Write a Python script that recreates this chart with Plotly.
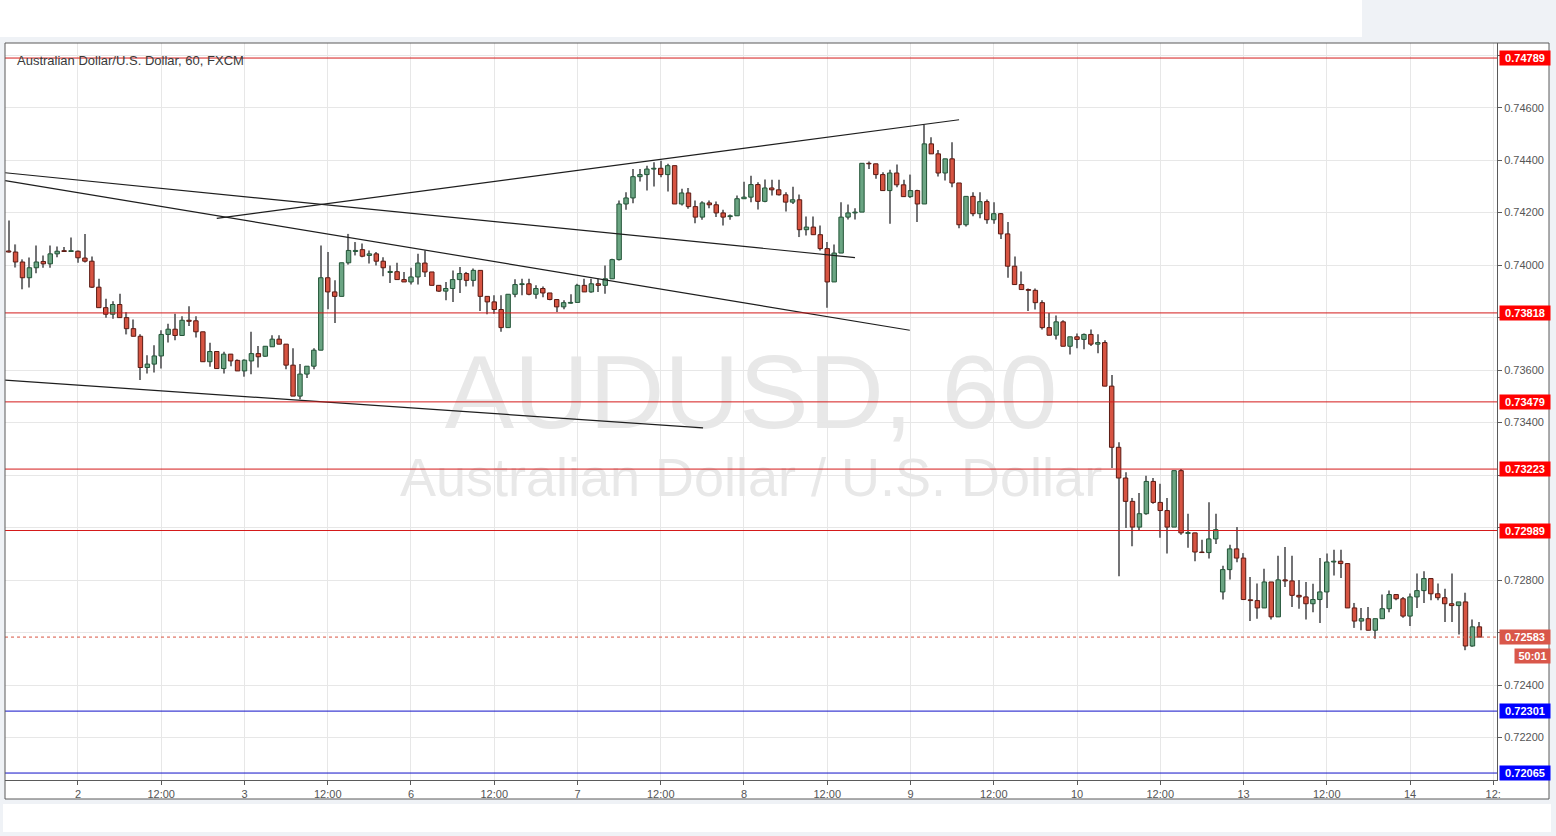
import plotly.graph_objects as go

# ---------------- data ----------------
hours = list(range(-10, 203))  # hourly bar index (0 = start of day "2")

opens = [
0.74054,0.74050,0.74012,0.73952,0.73990,0.74014,0.74005,0.74043,0.74055,0.74052,
0.74053,0.74027,0.74015,0.73916,0.73838,0.73813,0.73850,0.73800,0.73758,0.73729,
0.73610,0.73623,0.73654,0.73736,0.73756,0.73732,0.73790,0.73788,0.73746,0.73632,
0.73671,0.73606,0.73661,0.73637,0.73597,0.73635,0.73663,0.73653,0.73689,0.73718,
0.73699,0.73619,0.73501,0.73585,0.73615,0.73676,0.73952,0.73898,0.73881,0.74009,
0.74052,0.74059,0.74037,0.74043,0.74015,0.73972,0.73975,0.73945,0.73936,0.73955,
0.74008,0.73974,0.73923,0.73901,0.73911,0.73945,0.73968,0.73942,0.73980,0.73881,
0.73860,0.73831,0.73762,0.73889,0.73926,0.73929,0.73889,0.73911,0.73894,0.73869,
0.73841,0.73855,0.73858,0.73923,0.73898,0.73929,0.73923,0.73948,0.74021,0.74233,
0.74256,0.74337,0.74345,0.74366,0.74369,0.74345,0.74379,0.74233,0.74275,0.74223,
0.74183,0.74237,0.74230,0.74199,0.74185,0.74188,0.74253,0.74259,0.74307,0.74243,
0.74294,0.74287,0.74268,0.74240,0.74249,0.74135,0.74145,0.74116,0.74063,0.73936,
0.74046,0.74183,0.74199,0.74202,0.74388,0.74386,0.74345,0.74284,0.74351,0.74306,
0.74261,0.74284,0.74233,0.74462,0.74424,0.74351,0.74405,0.74313,0.74154,0.74262,
0.74196,0.74242,0.74173,0.74196,0.74119,0.73996,0.73926,0.73907,0.73904,0.73857,
0.73762,0.73733,0.73784,0.73691,0.73727,0.73717,0.73736,0.73699,0.73705,0.73539,
0.73306,0.73189,0.73100,0.73002,0.73053,0.73176,0.73096,0.73065,0.73002,0.73217,
0.72978,0.72980,0.72907,0.72905,0.72957,0.72755,0.72840,0.72919,0.72884,0.72725,
0.72722,0.72694,0.72793,0.72660,0.72801,0.72797,0.72742,0.72736,0.72710,0.72726,
0.72755,0.72869,0.72872,0.72863,0.72694,0.72644,0.72653,0.72609,0.72653,0.72691,
0.72745,0.72729,0.72663,0.72736,0.72760,0.72806,0.72748,0.72733,0.72710,0.72703,
0.72717,0.72549,0.72622]

highs = [
0.74170,0.74079,0.74022,0.74029,0.74075,0.74037,0.74075,0.74071,0.74069,0.74105,
0.74056,0.74119,0.74033,0.73948,0.73872,0.73862,0.73891,0.73821,0.73793,0.73737,
0.73657,0.73695,0.73752,0.73777,0.73815,0.73805,0.73843,0.73805,0.73746,0.73704,
0.73671,0.73670,0.73661,0.73641,0.73641,0.73746,0.73692,0.73692,0.73733,0.73733,
0.73699,0.73683,0.73623,0.73615,0.73683,0.74075,0.74050,0.73942,0.74009,0.74119,
0.74088,0.74082,0.74056,0.74050,0.74030,0.73999,0.74009,0.73974,0.73990,0.74043,
0.74056,0.73974,0.73923,0.73936,0.73980,0.73993,0.73974,0.73987,0.73980,0.73881,
0.73885,0.73885,0.73889,0.73946,0.73948,0.73948,0.73923,0.73919,0.73894,0.73869,
0.73866,0.73889,0.73929,0.73948,0.73948,0.73948,0.73999,0.74024,0.74246,0.74278,
0.74366,0.74366,0.74379,0.74392,0.74398,0.74386,0.74379,0.74291,0.74294,0.74246,
0.74243,0.74246,0.74242,0.74211,0.74193,0.74265,0.74318,0.74341,0.74316,0.74326,
0.74325,0.74325,0.74278,0.74299,0.74269,0.74185,0.74185,0.74151,0.74088,0.74079,
0.74240,0.74231,0.74217,0.74388,0.74395,0.74386,0.74354,0.74363,0.74383,0.74325,
0.74345,0.74287,0.74535,0.74487,0.74439,0.74405,0.74468,0.74313,0.74262,0.74278,
0.74278,0.74250,0.74240,0.74199,0.74164,0.74033,0.73976,0.73911,0.73911,0.73866,
0.73818,0.73808,0.73790,0.73727,0.73740,0.73740,0.73755,0.73737,0.73714,0.73581,
0.73325,0.73211,0.73113,0.73132,0.73198,0.73189,0.73167,0.73113,0.73217,0.73223,
0.73053,0.72980,0.72954,0.73097,0.73053,0.72855,0.72935,0.73002,0.72903,0.72812,
0.72787,0.72843,0.72793,0.72893,0.72926,0.72893,0.72800,0.72793,0.72786,0.72884,
0.72901,0.72916,0.72916,0.72863,0.72713,0.72694,0.72698,0.72653,0.72745,0.72760,
0.72745,0.72736,0.72749,0.72825,0.72834,0.72806,0.72787,0.72767,0.72825,0.72717,
0.72752,0.72650,0.72640]

lows = [
0.74048,0.73991,0.73908,0.73915,0.73969,0.73990,0.73990,0.74030,0.74050,0.74050,
0.74009,0.74010,0.73913,0.73838,0.73800,0.73796,0.73800,0.73736,0.73729,0.73562,
0.73587,0.73591,0.73606,0.73705,0.73714,0.73730,0.73768,0.73724,0.73632,0.73613,
0.73606,0.73587,0.73615,0.73597,0.73575,0.73584,0.73610,0.73651,0.73689,0.73699,
0.73603,0.73501,0.73489,0.73570,0.73603,0.73676,0.73832,0.73780,0.73881,0.74002,
0.74037,0.74030,0.74006,0.73999,0.73958,0.73932,0.73945,0.73936,0.73926,0.73926,
0.73955,0.73923,0.73898,0.73866,0.73860,0.73894,0.73919,0.73919,0.73825,0.73813,
0.73815,0.73746,0.73762,0.73878,0.73885,0.73885,0.73872,0.73878,0.73866,0.73821,
0.73832,0.73853,0.73858,0.73898,0.73895,0.73898,0.73891,0.73948,0.74018,0.74211,
0.74236,0.74319,0.74284,0.74300,0.74335,0.74281,0.74233,0.74227,0.74215,0.74160,
0.74173,0.74217,0.74183,0.74151,0.74173,0.74188,0.74253,0.74240,0.74212,0.74240,
0.74265,0.74265,0.74204,0.74233,0.74107,0.74113,0.74116,0.74056,0.73838,0.73936,
0.74046,0.74174,0.74174,0.74202,0.74366,0.74329,0.74284,0.74158,0.74297,0.74261,
0.74256,0.74164,0.74233,0.74424,0.74338,0.74322,0.74297,0.74141,0.74147,0.74186,
0.74179,0.74158,0.74158,0.74100,0.73952,0.73926,0.73907,0.73825,0.73831,0.73755,
0.73733,0.73717,0.73691,0.73660,0.73683,0.73680,0.73692,0.73664,0.73539,0.73227,
0.72815,0.72999,0.72929,0.72989,0.73049,0.73091,0.72961,0.72901,0.73002,0.72973,
0.72923,0.72872,0.72904,0.72882,0.72938,0.72726,0.72802,0.72868,0.72726,0.72644,
0.72653,0.72694,0.72650,0.72660,0.72774,0.72698,0.72691,0.72650,0.72678,0.72637,
0.72694,0.72818,0.72808,0.72694,0.72618,0.72609,0.72609,0.72577,0.72653,0.72678,
0.72723,0.72657,0.72625,0.72694,0.72713,0.72723,0.72723,0.72640,0.72640,0.72593,
0.72533,0.72546,0.72583]

closes = [
0.74050,0.74012,0.73952,0.73990,0.74012,0.74005,0.74043,0.74053,0.74052,0.74055,
0.74028,0.74015,0.73916,0.73838,0.73813,0.73850,0.73800,0.73758,0.73729,0.73610,
0.73623,0.73654,0.73736,0.73756,0.73732,0.73790,0.73786,0.73746,0.73632,0.73671,
0.73606,0.73661,0.73635,0.73597,0.73638,0.73663,0.73651,0.73691,0.73718,0.73699,
0.73619,0.73501,0.73585,0.73615,0.73676,0.73952,0.73898,0.73881,0.74009,0.74056,
0.74056,0.74034,0.74043,0.74015,0.73990,0.73976,0.73945,0.73936,0.73955,0.74008,
0.73974,0.73923,0.73901,0.73911,0.73945,0.73968,0.73942,0.73980,0.73881,0.73860,
0.73831,0.73762,0.73889,0.73926,0.73929,0.73889,0.73911,0.73894,0.73869,0.73841,
0.73857,0.73858,0.73923,0.73898,0.73929,0.73923,0.73948,0.74021,0.74233,0.74256,
0.74337,0.74345,0.74366,0.74369,0.74345,0.74379,0.74233,0.74275,0.74223,0.74183,
0.74237,0.74230,0.74199,0.74183,0.74188,0.74253,0.74259,0.74307,0.74243,0.74294,
0.74287,0.74268,0.74240,0.74249,0.74135,0.74145,0.74116,0.74063,0.73936,0.74046,
0.74183,0.74199,0.74202,0.74388,0.74386,0.74345,0.74284,0.74351,0.74306,0.74261,
0.74284,0.74233,0.74462,0.74424,0.74351,0.74405,0.74313,0.74154,0.74262,0.74196,
0.74242,0.74173,0.74196,0.74119,0.73996,0.73926,0.73907,0.73904,0.73857,0.73762,
0.73733,0.73784,0.73691,0.73727,0.73717,0.73736,0.73699,0.73705,0.73539,0.73306,
0.73189,0.73100,0.73002,0.73053,0.73176,0.73096,0.73065,0.73002,0.73217,0.72980,
0.72981,0.72907,0.72905,0.72957,0.72992,0.72840,0.72919,0.72884,0.72726,0.72722,
0.72694,0.72793,0.72660,0.72801,0.72797,0.72742,0.72736,0.72710,0.72726,0.72755,
0.72869,0.72872,0.72863,0.72694,0.72644,0.72653,0.72609,0.72653,0.72691,0.72745,
0.72729,0.72663,0.72736,0.72760,0.72806,0.72748,0.72733,0.72710,0.72703,0.72717,
0.72549,0.72622,0.72583]

tick_pos = [0, 12, 24, 36, 48, 60, 72, 84, 96, 108, 120, 132, 144, 156, 168, 180, 192, 204]
tick_text = ["2", "12:00", "3", "12:00", "6", "12:00", "7", "12:00", "8", "12:00",
             "9", "12:00", "10", "12:00", "13", "12:00", "14", "12:"]
price_ticks = [0.722, 0.724, 0.726, 0.728, 0.730, 0.732, 0.734, 0.736, 0.738,
               0.740, 0.742, 0.744, 0.746, 0.748]
# labels hidden behind the price-level boxes are left blank
price_tick_text = ["0.72200", "0.72400", "", "0.72800", "", "", "0.73400", "0.73600", "",
                   "0.74000", "0.74200", "0.74400", "0.74600", ""]

red_levels = [0.74789, 0.73818, 0.73479, 0.73223, 0.72989]
blue_levels = [0.72301, 0.72065]
last_price = 0.72583
countdown = "50:01"

trend_x = [[20.0, 127.0], [-10.5, 112.0], [-10.5, 119.9], [-10.5, 90.1]]
trend_y = [[0.74178, 0.74554], [0.74352, 0.74029], [0.74322, 0.73752], [0.73562, 0.73380]]

title_text = "Australian Dollar/U.S. Dollar, 60, FXCM"
wm_big = "AUDUSD, 60"
wm_small = "Australian Dollar / U.S. Dollar"

# ---------------- styling helpers ----------------
UP_FILL, UP_EDGE = "#6ba583", "#225437"
DN_FILL, DN_EDGE = "#d75442", "#5b1a13"
FONT = "Liberation Sans, Arial, sans-serif"
X_LO, X_HI = -10.52, 204.54
Y_LO, Y_HI = 0.720385, 0.748463

up = [c >= o for o, c in zip(opens, closes)]
body_base = [min(o, c) for o, c in zip(opens, closes)]
body_h = [max(abs(c - o), 0.00002) for o, c in zip(opens, closes)]
fill = [UP_FILL if u else DN_FILL for u in up]
edge = [UP_EDGE if u else DN_EDGE for u in up]
wick_h = [h - l for h, l in zip(highs, lows)]

fig = go.Figure()
fig.add_trace(go.Bar(x=hours, y=wick_h, base=lows, width=0.16,
                     marker=dict(color="#737375", line=dict(width=0)),
                     hoverinfo="skip", showlegend=False))
fig.add_trace(go.Bar(x=hours, y=body_h, base=body_base, width=0.64,
                     marker=dict(color=fill, line=dict(color=edge, width=1)),
                     hoverinfo="skip", showlegend=False))
for tx, ty in zip(trend_x, trend_y):
    fig.add_trace(go.Scatter(x=tx, y=ty, mode="lines",
                             line=dict(color="#1e1e1e", width=1.2),
                             hoverinfo="skip", showlegend=False))
# horizontal price levels
for lv in red_levels:
    fig.add_trace(go.Scatter(x=[X_LO, X_HI], y=[lv, lv], mode="lines",
                             line=dict(color="#d41a1a", width=1),
                             hoverinfo="skip", showlegend=False))
for lv in blue_levels:
    fig.add_trace(go.Scatter(x=[X_LO, X_HI], y=[lv, lv], mode="lines",
                             line=dict(color="#1010c8", width=1),
                             hoverinfo="skip", showlegend=False))
fig.add_trace(go.Scatter(x=[X_LO, X_HI], y=[last_price, last_price], mode="lines",
                         line=dict(color="#d75442", width=1, dash="dot"),
                         hoverinfo="skip", showlegend=False))

# pixel -> paper helpers for frame decoration
L, R, T, B = 5, 1497, 43, 780
def px(xp):
    return (xp - L) / (R - L)
def py(yp):
    return 1 - (yp - T) / (B - T)

shapes = [
    # white chart panel and white strips (page decoration)
    dict(type="rect", xref="paper", yref="paper", x0=px(5), x1=px(1549), y0=py(799), y1=py(43),
         fillcolor="white", line=dict(width=0), layer="below"),
    dict(type="rect", xref="paper", yref="paper", x0=px(0), x1=px(1362), y0=py(37), y1=py(0),
         fillcolor="white", line=dict(width=0), layer="below"),
    dict(type="rect", xref="paper", yref="paper", x0=px(3), x1=px(1551), y0=py(832), y1=py(804),
         fillcolor="white", line=dict(width=0), layer="below"),
    # watermark
    dict(type="rect", xref="paper", yref="paper", x0=0.2, x1=0.8, y0=py(434), y1=py(330),
         fillcolor="rgba(0,0,0,0)", line=dict(width=0), layer="below",
         label=dict(text=wm_big, textposition="middle center",
                    font=dict(family=FONT, size=104, color="#e8e8e8"))),
    dict(type="rect", xref="paper", yref="paper", x0=0.2, x1=0.8, y0=py(497), y1=py(447),
         fillcolor="rgba(0,0,0,0)", line=dict(width=0), layer="below",
         label=dict(text=wm_small, textposition="middle center",
                    font=dict(family=FONT, size=54, color="#e8e8e8"))),
    # frame border
    dict(type="rect", xref="paper", yref="paper", x0=px(5), x1=px(1549), y0=py(799), y1=py(43),
         fillcolor="rgba(0,0,0,0)", line=dict(color="#5a5a5a", width=1)),
]

annotations = [
    dict(text=title_text, xref="paper", yref="paper", x=px(15), y=py(60), xanchor="left",
         yanchor="middle", showarrow=False, font=dict(family=FONT, size=13, color="#3a3a3a")),
]
def level_label(val, color):
    return dict(text="<b>%.5f</b>" % val, xref="paper", yref="y", x=1, y=val, xanchor="left",
                yanchor="middle", xshift=2, showarrow=False, bgcolor=color, width=48, height=12,
                borderpad=1, font=dict(family=FONT, size=11, color="white"))
for lv in red_levels:
    annotations.append(level_label(lv, "#ff0000"))
for lv in blue_levels:
    annotations.append(level_label(lv, "#0000ff"))
annotations.append(level_label(last_price, "#d9574a"))
annotations.append(dict(text="<b>%s</b>" % countdown, xref="paper", yref="y", x=1, y=last_price,
                        xanchor="left", yanchor="middle", xshift=17, yshift=-19, showarrow=False,
                        bgcolor="#d9574a", width=33, height=12, borderpad=1,
                        font=dict(family=FONT, size=11, color="white")))

fig.update_layout(
    width=1556, height=836, autosize=False,
    margin=dict(l=L, r=1556 - R, t=T, b=836 - B, pad=0),
    paper_bgcolor="#eff2f6", plot_bgcolor="white",
    barmode="overlay", showlegend=False,
    font=dict(family=FONT, size=11, color="#555555"),
    shapes=shapes, annotations=annotations,
    xaxis=dict(range=[X_LO, X_HI], tickvals=tick_pos, ticktext=tick_text,
               showgrid=True, gridcolor="#e7e7e7", gridwidth=1, zeroline=False,
               showline=True, linecolor="#5a5a5a", linewidth=1,
               ticks="outside", ticklen=4, tickcolor="#5a5a5a",
               tickfont=dict(family=FONT, size=11, color="#555555"), fixedrange=True),
    yaxis=dict(range=[Y_LO, Y_HI], side="right", tickvals=price_ticks,
               ticktext=price_tick_text, showgrid=True, gridcolor="#e7e7e7", gridwidth=1,
               zeroline=False, showline=True, linecolor="#5a5a5a", linewidth=1,
               ticks="outside", ticklen=4, tickcolor="#5a5a5a",
               tickfont=dict(family=FONT, size=11, color="#555555"), fixedrange=True),
)

fig.write_html("out.html", config={"displayModeBar": False},
               post_script="document.body.style.margin='0';document.body.style.overflow='hidden';")
